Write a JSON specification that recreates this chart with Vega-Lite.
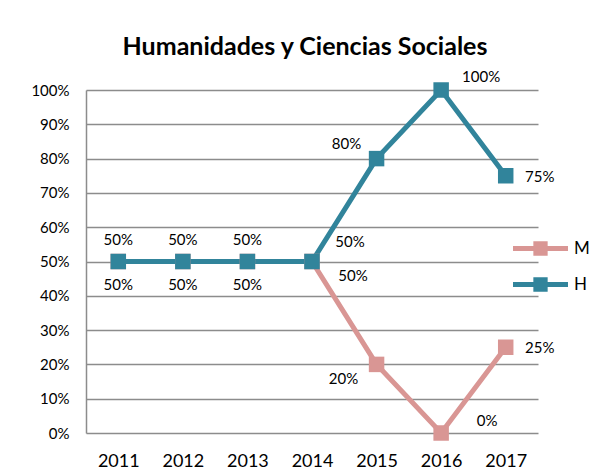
{
  "$schema": "https://vega.github.io/schema/vega-lite/v6.json",
  "width": 452,
  "height": 343,
  "autosize": {"type": "none"},
  "padding": {"left": 86, "top": 90, "right": 60, "bottom": 39},
  "background": "white",
  "title": {
    "text": "Humanidades y Ciencias Sociales",
    "font": "Lato",
    "fontSize": 25,
    "fontWeight": "bold",
    "color": "#000000",
    "anchor": "middle",
    "dx": -7,
    "offset": 10
  },
  "config": {
    "view": {"stroke": null},
    "font": "Lato"
  },
  "data": {
    "values": [
      {"year": "2011", "serie": "M", "value": 0.5},
      {"year": "2012", "serie": "M", "value": 0.5},
      {"year": "2013", "serie": "M", "value": 0.5},
      {"year": "2014", "serie": "M", "value": 0.5},
      {"year": "2015", "serie": "M", "value": 0.2},
      {"year": "2016", "serie": "M", "value": 0.0},
      {"year": "2017", "serie": "M", "value": 0.25},
      {"year": "2011", "serie": "H", "value": 0.5},
      {"year": "2012", "serie": "H", "value": 0.5},
      {"year": "2013", "serie": "H", "value": 0.5},
      {"year": "2014", "serie": "H", "value": 0.5},
      {"year": "2015", "serie": "H", "value": 0.8},
      {"year": "2016", "serie": "H", "value": 1.0},
      {"year": "2017", "serie": "H", "value": 0.75}
    ]
  },
  "encoding": {
    "x": {
      "field": "year",
      "type": "ordinal",
      "scale": {"type": "point", "padding": 0.5},
      "axis": {
        "title": null,
        "labelAngle": 0,
        "labelFont": "Lato",
        "labelFontSize": 18,
        "labelColor": "#000000",
        "labelPadding": 19,
        "ticks": false,
        "domain": false,
        "grid": false
      }
    },
    "y": {
      "field": "value",
      "type": "quantitative",
      "scale": {"domain": [0, 1], "nice": false},
      "axis": {
        "title": null,
        "format": ".0%",
        "values": [0, 0.1, 0.2, 0.3, 0.4, 0.5, 0.6, 0.7, 0.8, 0.9, 1.0],
        "labelFont": "Lato",
        "labelFontSize": 15,
        "labelColor": "#000000",
        "labelPadding": 17,
        "ticks": false,
        "domain": true,
        "domainColor": "#8c8c8c",
        "domainWidth": 1.5,
        "grid": true,
        "gridColor": "#8c8c8c",
        "gridWidth": 1.5
      }
    },
    "color": {
      "field": "serie",
      "type": "nominal",
      "scale": {"domain": ["M", "H"], "range": ["#D99694", "#31849B"]},
      "legend": {
        "title": null,
        "orient": "none",
        "legendX": 427,
        "legendY": 131,
        "symbolType": "M-1,-0.09H1V0.09H-1Z M-0.26,-0.26H0.26V0.26H-0.26Z",
        "symbolSize": 3025,
        "symbolStrokeWidth": 0,
        "labelFont": "Lato",
        "labelFontSize": 17,
        "labelColor": "#000000",
        "labelOffset": 6,
        "rowPadding": -20,
        "encode": {
          "symbols": {"update": {"fill": {"scale": "color", "field": "value"}, "strokeWidth": {"value": 0}, "opacity": {"value": 1}}}
        }
      }
    }
  },
  "layer": [
    {"mark": {"type": "line", "strokeWidth": 5}},
    {"mark": {"type": "point", "shape": "square", "filled": true, "size": 240, "opacity": 1}},
    {
      "transform": [{"filter": "datum.serie == 'H' && datum.year <= '2013'"}],
      "mark": {"type": "text", "fontSize": 15, "font": "Lato", "dy": -22, "baseline": "middle"},
      "encoding": {"text": {"field": "value", "format": ".0%"}, "color": {"value": "#000000"}}
    },
    {
      "transform": [{"filter": "datum.serie == 'M' && datum.year <= '2013'"}],
      "mark": {"type": "text", "fontSize": 15, "font": "Lato", "dy": 23, "baseline": "middle"},
      "encoding": {"text": {"field": "value", "format": ".0%"}, "color": {"value": "#000000"}}
    },
    {
      "transform": [{"filter": "datum.serie == 'H' && datum.year == '2014'"}],
      "mark": {"type": "text", "fontSize": 15, "font": "Lato", "dx": 38, "dy": -20, "baseline": "middle"},
      "encoding": {"text": {"field": "value", "format": ".0%"}, "color": {"value": "#000000"}}
    },
    {
      "transform": [{"filter": "datum.serie == 'M' && datum.year == '2014'"}],
      "mark": {"type": "text", "fontSize": 15, "font": "Lato", "dx": 41, "dy": 14, "baseline": "middle"},
      "encoding": {"text": {"field": "value", "format": ".0%"}, "color": {"value": "#000000"}}
    },
    {
      "transform": [{"filter": "datum.serie == 'H' && datum.year == '2015'"}],
      "mark": {"type": "text", "fontSize": 15, "font": "Lato", "dx": -30, "dy": -15, "baseline": "middle"},
      "encoding": {"text": {"field": "value", "format": ".0%"}, "color": {"value": "#000000"}}
    },
    {
      "transform": [{"filter": "datum.serie == 'M' && datum.year == '2015'"}],
      "mark": {"type": "text", "fontSize": 15, "font": "Lato", "dx": -33, "dy": 15, "baseline": "middle"},
      "encoding": {"text": {"field": "value", "format": ".0%"}, "color": {"value": "#000000"}}
    },
    {
      "transform": [{"filter": "datum.serie == 'H' && datum.year == '2016'"}],
      "mark": {"type": "text", "fontSize": 15, "font": "Lato", "dx": 40, "dy": -13, "baseline": "middle"},
      "encoding": {"text": {"field": "value", "format": ".0%"}, "color": {"value": "#000000"}}
    },
    {
      "transform": [{"filter": "datum.serie == 'M' && datum.year == '2016'"}],
      "mark": {"type": "text", "fontSize": 15, "font": "Lato", "dx": 46, "dy": -12, "baseline": "middle"},
      "encoding": {"text": {"field": "value", "format": ".0%"}, "color": {"value": "#000000"}}
    },
    {
      "transform": [{"filter": "datum.year == '2017'"}],
      "mark": {"type": "text", "fontSize": 15, "font": "Lato", "dx": 34, "dy": 1, "baseline": "middle"},
      "encoding": {"text": {"field": "value", "format": ".0%"}, "color": {"value": "#000000"}}
    }
  ]
}
